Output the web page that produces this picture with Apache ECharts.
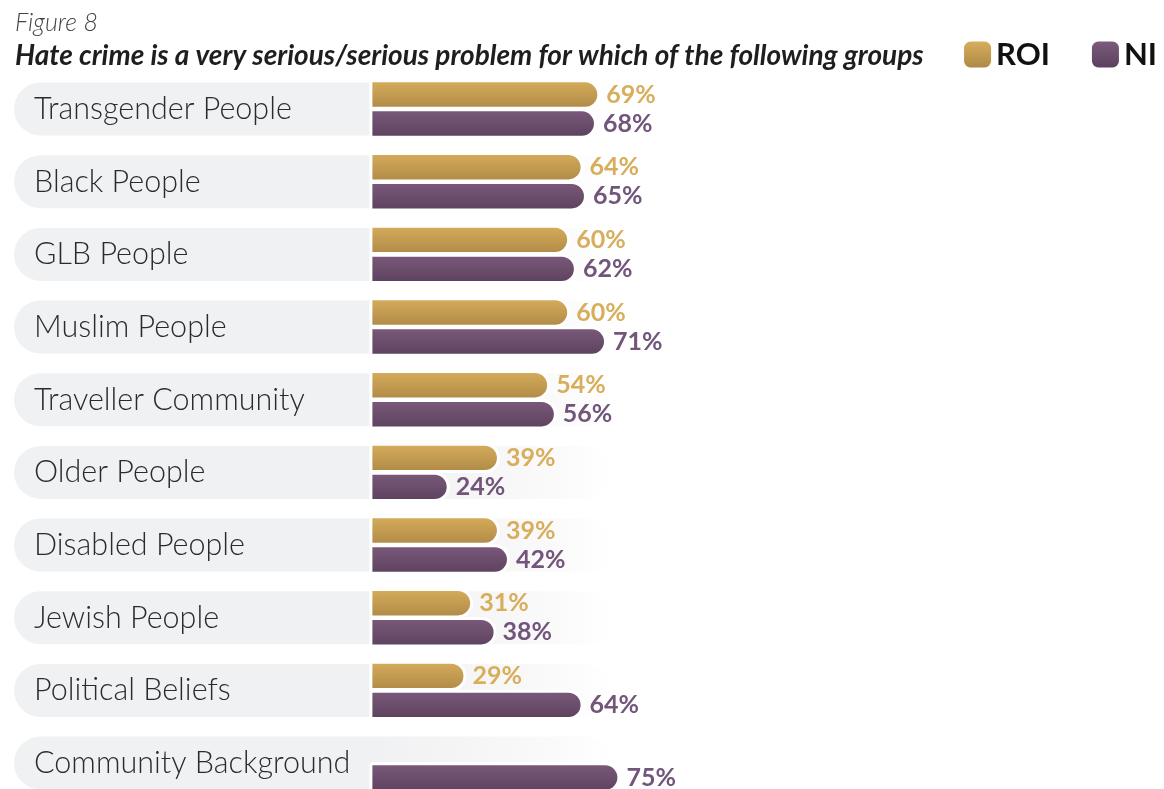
<!DOCTYPE html>
<html>
<head>
<meta charset="utf-8">
<script src="https://cdn.jsdelivr.net/npm/echarts@6/dist/echarts.min.js"></script>
<style>
  html, body { margin: 0; padding: 0; background: #ffffff; }
  #chart { width: 1164px; height: 789px; }
</style>
</head>
<body>
<div id="chart"></div>
<script>
// Groups, top to bottom
const categories = [
  'Transgender People', 'Black People', 'GLB People', 'Muslim People',
  'Traveller Community', 'Older People', 'Disabled People', 'Jewish People',
  'Political Beliefs', 'Community Background'
];
// Share (%) saying hate crime is a very serious/serious problem
const roiValues = [69, 64, 60, 60, 54, 39, 39, 31, 29, null];
const niValues  = [68, 65, 62, 71, 56, 24, 42, 38, 64, 75];

const FONT = 'Lato, "Noto Sans", sans-serif';

const gold = new echarts.graphic.LinearGradient(0, 0, 0, 1, [
  { offset: 0, color: '#d8ae5c' },
  { offset: 1, color: '#ae8846' }
]);
const plum = new echarts.graphic.LinearGradient(0, 0, 0, 1, [
  { offset: 0, color: '#7c5a7b' },
  { offset: 1, color: '#5b415e' }
]);

// Rounded band behind each row: solid grey under the label, fading out behind the bars
function renderBand(params, api) {
  const cy = api.coord([0, api.value(1)])[1];
  const h = 53;
  return {
    type: 'rect',
    shape: { x: 14, y: cy - h / 2, width: 600, height: h, r: h / 2 },
    style: {
      fill: new echarts.graphic.LinearGradient(0, 0, 1, 0, [
        { offset: 0, color: '#f0f1f3' },
        { offset: 0.59, color: '#f0f1f3' },
        { offset: 0.72, color: '#f4f4f5' },
        { offset: 0.9, color: '#fafafa' },
        { offset: 1, color: '#ffffff' }
      ])
    },
    silent: true
  };
}

const chart = echarts.init(document.getElementById('chart'), null, { renderer: 'canvas' });

const barStyle = (fill) => ({
  color: fill,
  borderColor: '#ffffff',
  borderWidth: 3,
  borderRadius: [0, 15, 15, 0]
});

chart.setOption({
  backgroundColor: '#ffffff',
  animation: false,
  title: [
    {
      text: 'Figure 8',
      left: 10, top: 5,
      textStyle: { fontFamily: FONT, fontStyle: 'italic', fontWeight: 300, fontSize: 25, color: '#444444' }
    },
    {
      text: 'Hate crime is a very serious/serious problem for which of the following groups',
      left: 10, top: 37,
      textStyle: { fontFamily: FONT, fontStyle: 'italic', fontWeight: 'bold', fontSize: 28, color: '#1e1e1e' }
    }
  ],
  legend: {
    data: ['ROI', 'NI'],
    right: 2, top: 34,
    itemWidth: 27, itemHeight: 26, itemGap: 42, itemTextGap: 8,
    icon: 'roundRect',
    itemStyle: { borderWidth: 0 },
    textStyle: { fontFamily: FONT, fontWeight: 'bold', fontSize: 31, color: '#111111' }
  },
  grid: { left: 369.4, top: 72.7, width: 334.7, height: 726.7, containLabel: false, outerBoundsMode: 'none' },
  xAxis: { type: 'value', min: 0, max: 100, show: false },
  yAxis: {
    type: 'category',
    data: categories,
    inverse: true,
    axisLine: { show: false },
    axisTick: { show: false },
    splitLine: { show: false },
    axisLabel: {
      align: 'left',
      margin: 335.4,
      padding: [10, 0, 0, 0],
      fontFamily: FONT,
      fontWeight: 300,
      fontSize: 30.5,
      color: '#2b2b2b'
    }
  },
  series: [
    {
      type: 'custom',
      name: 'band',
      renderItem: renderBand,
      data: categories.map((c, i) => [0, i]),
      encode: { x: 0, y: 1 },
      z: 0,
      silent: true
    },
    {
      type: 'bar',
      name: 'ROI',
      data: roiValues,
      barWidth: 30.4,
      barGap: '-4.6%',
      z: 2,
      itemStyle: barStyle(gold),
      label: {
        show: true, position: 'right', distance: 6,
        formatter: '{c}%',
        fontFamily: FONT, fontWeight: 'bold', fontSize: 25, color: '#d8ad5c'
      }
    },
    {
      type: 'bar',
      name: 'NI',
      data: niValues,
      barWidth: 30.4,
      barGap: '-4.6%',
      z: 3,
      itemStyle: barStyle(plum),
      label: {
        show: true, position: 'right', distance: 6,
        formatter: '{c}%',
        fontFamily: FONT, fontWeight: 'bold', fontSize: 25, color: '#72557a'
      }
    }
  ]
});
</script>
</body>
</html>
